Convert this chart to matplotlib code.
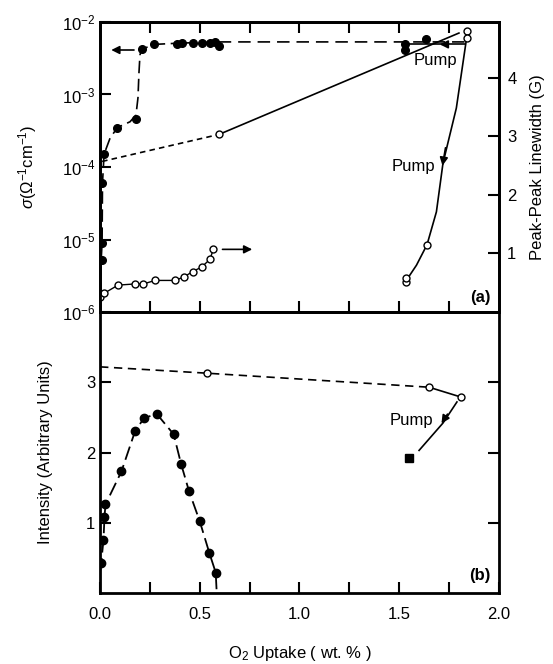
import matplotlib; matplotlib.use("Agg")
import matplotlib.pyplot as plt
from matplotlib.ticker import FixedLocator, NullLocator, NullFormatter, LogLocator
plt.rcParams.update({"font.family": ["Liberation Sans", "DejaVu Sans"], "font.size": 12,
                     "mathtext.fontset": "custom", "mathtext.rm": "Liberation Sans",
                     "mathtext.it": "Liberation Sans:italic", "lines.scale_dashes": False,
                     "axes.linewidth": 2.0})
K = "black"

# --- (a) conductivity, filled circles (left axis, log) ---
sig_x = [0.012, 0.012, 0.012, 0.022, 0.087, 0.179, 0.209, 0.272, 0.384, 0.411, 0.466, 0.510, 0.551, 0.576, 0.596]
sig_y = [5.2e-6, 9.0e-6, 6.0e-5, 1.5e-4, 3.5e-4, 4.6e-4, 4.2e-3, 4.9e-3, 5.0e-3, 5.1e-3, 5.1e-3, 5.1e-3, 5.1e-3, 5.3e-3, 4.6e-3]
# guide curve through the points
sig_cx = [0.0, 0.005, 0.01, 0.012, 0.02, 0.05, 0.087, 0.15, 0.18, 0.19, 0.195, 0.2, 0.209, 0.272, 0.40, 0.60, 1.83]
sig_cy = [1e-6, 5e-6, 9e-6, 6e-5, 1.5e-4, 2.5e-4, 3.5e-4, 4.2e-4, 5.2e-4, 9e-4, 2e-3, 3.5e-3, 4.2e-3, 4.9e-3, 5.1e-3, 5.3e-3, 5.3e-3]
sig_pump_x = [1.53, 1.53, 1.637]
sig_pump_y = [4.9e-3, 4.1e-3, 5.8e-3]

# --- (a) linewidth, open circles (right axis) ---
lw_low_x = [0.0, 0.02, 0.09, 0.175, 0.217, 0.276, 0.376, 0.421, 0.464, 0.51, 0.551, 0.568]
lw_low_y = [0.25, 0.32, 0.46, 0.48, 0.48, 0.54, 0.54, 0.60, 0.69, 0.77, 0.90, 1.07]
lw_up_x = [0.01, 0.596, 1.80]
lw_up_y = [2.57, 3.03, 4.76]
lw_end_x = [1.84, 1.84]
lw_end_y = [4.79, 4.67]
lw_pump_x = [1.837, 1.787, 1.72, 1.687, 1.64, 1.587, 1.536]
lw_pump_y = [4.64, 3.48, 2.54, 1.71, 1.15, 0.80, 0.54]
lw_pump_pts_x = [1.64, 1.532, 1.532]
lw_pump_pts_y = [1.15, 0.52, 0.58]

# --- (b) intensity ---
int_x = [0.005, 0.017, 0.022, 0.027, 0.107, 0.175, 0.22, 0.284, 0.369, 0.406, 0.446, 0.50, 0.548, 0.58]
int_y = [0.42, 0.75, 1.08, 1.26, 1.73, 2.30, 2.49, 2.55, 2.26, 1.84, 1.45, 1.02, 0.57, 0.29]
int_open_x = [0.0, 0.534, 1.65, 1.81]
int_open_y = [3.22, 3.13, 2.93, 2.79]
int_pump_x = [1.79, 1.72, 1.60]
int_pump_y = [2.72, 2.42, 2.03]
int_sq_x = [1.55]
int_sq_y = [1.92]

fig = plt.figure(figsize=(5.53, 6.64), dpi=100)
ax1 = fig.add_axes([0.181, 0.530, 0.721, 0.437])
ax2 = fig.add_axes([0.181, 0.107, 0.721, 0.423])
ax1r = ax1.twinx()

# panel (a)
ax1.set_yscale("log"); ax1.set_ylim(1e-6, 1e-2); ax1.set_xlim(0, 2.0)
ax1.plot(sig_cx[:-2], sig_cy[:-2], color=K, lw=1.2, dashes=(9, 4))
ax1.plot(sig_cx[-3:], sig_cy[-3:], color=K, lw=1.2, dashes=(9, 5))
ax1.plot(sig_x, sig_y, "o", color=K, ms=5.5)
ax1.plot(sig_pump_x, sig_pump_y, "o", color=K, ms=5.5)
ax1.plot([1.83, 1.53], [4.9e-3, 4.9e-3], color=K, lw=1.2)
ax1.annotate("", xy=(1.69, 4.9e-3), xytext=(1.76, 4.9e-3),
             arrowprops=dict(arrowstyle="-|>", color=K, lw=1.2, mutation_scale=12))
ax1.annotate("", xy=(0.042, 4.1e-3), xytext=(0.184, 4.1e-3),
             arrowprops=dict(arrowstyle="-|>", color=K, lw=1.2, mutation_scale=12))

ax1r.set_ylim(0, 4.95)
ax1r.plot(lw_low_x, lw_low_y, "-", color=K, lw=1.0, marker="o", mfc="white", ms=5)
ax1r.plot(lw_up_x[:2], lw_up_y[:2], color=K, lw=1.2, dashes=(4, 3))
ax1r.plot(lw_up_x[1:], lw_up_y[1:], color=K, lw=1.2)
ax1r.plot(lw_up_x[1], lw_up_y[1], "o", color=K, mfc="white", ms=5)
ax1r.plot(lw_pump_x, lw_pump_y, color=K, lw=1.2)
ax1r.plot(lw_end_x, lw_end_y, "o", color=K, mfc="white", ms=5)
ax1r.plot(lw_pump_pts_x, lw_pump_pts_y, "o", color=K, mfc="white", ms=5)
ax1r.annotate("", xy=(1.715, 2.45), xytext=(1.735, 2.85),
              arrowprops=dict(arrowstyle="-|>", color=K, lw=1.2, mutation_scale=12))
ax1r.annotate("", xy=(0.777, 1.07), xytext=(0.60, 1.07),
              arrowprops=dict(arrowstyle="-|>", color=K, lw=1.2, mutation_scale=12))
ax1r.text(1.68, 4.3, "Pump", ha="center", va="center", fontsize=12)
ax1r.text(1.57, 2.48, "Pump", ha="center", va="center", fontsize=12)
ax1r.text(1.96, 0.25, "(a)", ha="right", va="center", fontsize=12, fontweight="bold")

ax1.yaxis.set_major_locator(LogLocator(base=10, numticks=10))
ax1.yaxis.set_minor_locator(NullLocator())
ax1.xaxis.set_major_locator(FixedLocator([0.25, 0.5, 0.75, 1.0, 1.25, 1.5, 1.75]))
ax1.xaxis.set_major_formatter(NullFormatter())
ax1.tick_params(axis="x", which="both", direction="in", top=True, bottom=True, length=8, width=1.5)
ax1.tick_params(axis="y", direction="in", length=8, width=1.5, labelsize=12)
ax1r.yaxis.set_major_locator(FixedLocator([1, 2, 3, 4]))
ax1r.tick_params(axis="y", direction="in", length=8, width=1.5, labelsize=12, pad=6)
ax1.set_ylabel(r"$\sigma(\Omega^{-1}\mathrm{cm}^{-1})$", fontsize=12, labelpad=16)
ax1r.set_ylabel("Peak-Peak Linewidth (G)", fontsize=12, labelpad=10)

# panel (b)
ax2.set_xlim(0, 2.0); ax2.set_ylim(0, 4.0)
ax2.plot([0.0] + int_x + [0.585], [0.3] + int_y + [0.0], color=K, lw=1.3, dashes=(10, 4))
ax2.plot(int_x, int_y, "o", color=K, ms=6)
ax2.plot(int_open_x[:3], int_open_y[:3], color=K, lw=1.2, dashes=(6, 4))
ax2.plot(int_open_x[2:], int_open_y[2:], color=K, lw=1.2)
ax2.plot(int_open_x[1:], int_open_y[1:], "o", color=K, mfc="white", ms=5)
ax2.plot(int_pump_x, int_pump_y, color=K, lw=1.2)
ax2.annotate("", xy=(1.705, 2.38), xytext=(1.75, 2.58),
             arrowprops=dict(arrowstyle="-|>", color=K, lw=1.2, mutation_scale=12))
ax2.plot(int_sq_x, int_sq_y, "s", color=K, ms=6)
ax2.text(1.56, 2.45, "Pump", ha="center", va="center", fontsize=12)
ax2.text(1.96, 0.25, "(b)", ha="right", va="center", fontsize=12, fontweight="bold")

ax2.xaxis.set_major_locator(FixedLocator([0.0, 0.5, 1.0, 1.5, 2.0]))
ax2.xaxis.set_minor_locator(FixedLocator([0.25, 0.75, 1.25, 1.75]))
ax2.set_xticklabels(["0.0", "0.5", "1.0", "1.5", "2.0"])
ax2.yaxis.set_major_locator(FixedLocator([1, 2, 3]))
ax2.tick_params(axis="x", which="both", direction="in", length=8, width=1.5, labelsize=12, pad=10)
ax2.tick_params(axis="y", direction="in", right=True, length=8, width=1.5, labelsize=12)
ax2.set_ylabel("Intensity (Arbitrary Units)", fontsize=12, labelpad=24)
ax2.set_xlabel(r"O$_2$ Uptake ( wt. % )", fontsize=12, labelpad=16)

fig.savefig("out.png", dpi=100)
